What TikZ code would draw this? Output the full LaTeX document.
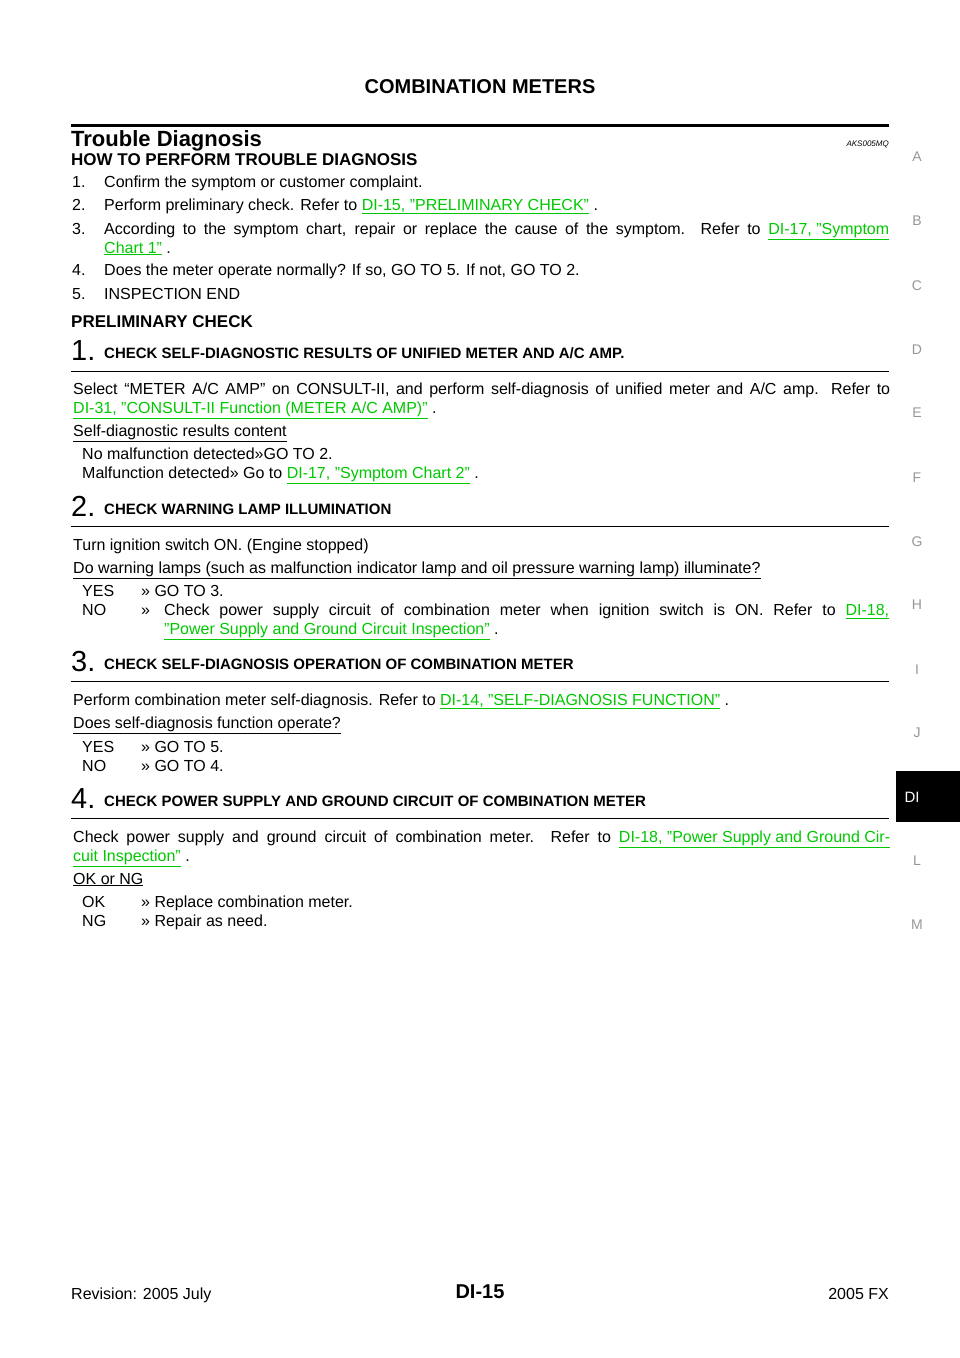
\documentclass[tikz,border=0pt]{standalone}
\usepackage{fontspec}
\setmainfont{Liberation Sans}
\definecolor{linkgreen}{RGB}{0,200,0}
\definecolor{tabgray}{RGB}{150,150,150}
\newcommand{\lnk}[1]{\textcolor{linkgreen}{\underline{#1}}}
\tikzset{
  body/.style={anchor=base west, inner sep=0pt, font=\fontsize{16}{19}\selectfont},
  head/.style={anchor=base west, inner sep=0pt, font=\fontsize{17}{20}\selectfont\bfseries},
  stepnum/.style={anchor=base west, inner sep=0pt, font=\fontsize{29}{30}\selectfont},
  steptitle/.style={anchor=base west, inner sep=0pt, font=\fontsize{15}{18}\selectfont\bfseries},
  tab/.style={inner sep=0pt, text=tabgray, font=\fontsize{14}{16}\selectfont},
}
\begin{document}
\begin{tikzpicture}[x=1pt, y=-1pt]
\useasboundingbox (0,0) rectangle (960,1358);

% page header
\node[inner sep=0pt, anchor=base, font=\fontsize{20}{24}\selectfont\bfseries] (title) at (480,93) {COMBINATION METERS};
\draw[line width=3pt] (71,125) -- (889,125);
\node[anchor=base west, inner sep=0pt, font=\fontsize{22}{26}\selectfont\bfseries] (trouble) at (71,146) {Trouble Diagnosis};
\node[anchor=base east, inner sep=0pt, font=\fontsize{8}{9}\selectfont\itshape] (code) at (889,146) {AKS005MQ};

% how to perform
\node[head] (howto) at (71,165) {HOW TO PERFORM TROUBLE DIAGNOSIS};
\node[body] (n1) at (72,187) {1.};
\node[body] (t1) at (104,187) {Confirm the symptom or customer complaint.};
\node[body] (n2) at (72,210) {2.};
\node[body] (t2) at (104,210) {Perform preliminary check. Refer to \lnk{DI-15, "PRELIMINARY CHECK"} .};
\node[body] (n3) at (72,234) {3.};
\node[body, text width=785pt, align=justify] (t3) at (104,234) {According to the symptom chart, repair or replace the cause of the symptom. Refer to \lnk{DI-17, "Symptom}\linebreak \lnk{Chart 1"} .};
\node[body] (n4) at (72,275) {4.};
\node[body] (t4) at (104,275) {Does the meter operate normally? If so, GO TO 5. If not, GO TO 2.};
\node[body] (n5) at (72,299) {5.};
\node[body] (t5) at (104,299) {INSPECTION END};

\node[head] (prelim) at (71,327) {PRELIMINARY CHECK};

% step 1
\node[stepnum] (s1) at (71,360) {1.};
\node[steptitle] (s1t) at (104,358) {CHECK SELF-DIAGNOSTIC RESULTS OF UNIFIED METER AND A/C AMP.};
\draw (71,371) -- (889,371);
\node[body, text width=817pt, align=justify] (s1a) at (73,394) {Select “METER A/C AMP” on CONSULT-II, and perform self-diagnosis of unified meter and A/C amp. Refer to\linebreak \lnk{DI-31, "CONSULT-II Function (METER A/C AMP)"} .};
\node[body] (s1q) at (73,436) {\underline{Self-diagnostic results content}};
\node[body] (s1r1) at (82,459) {No malfunction detected>>GO TO 2.};
\node[body] (s1r2) at (82,478) {Malfunction detected>> Go to \lnk{DI-17, "Symptom Chart 2"} .};

% step 2
\node[stepnum] (s2) at (71,516) {2.};
\node[steptitle] (s2t) at (104,514) {CHECK WARNING LAMP ILLUMINATION};
\draw (71,526) -- (889,526);
\node[body] (s2a) at (73,550) {Turn ignition switch ON. (Engine stopped)};
\node[body] (s2q) at (73,573) {\underline{Do warning lamps (such as malfunction indicator lamp and oil pressure warning lamp) illuminate?}};
\node[body] (s2y) at (82,596) {YES};
\node[body] (s2ya) at (141,596) {>> GO TO 3.};
\node[body] (s2n) at (82,615) {NO};
\node[body] (s2na) at (141,615) {>>};
\node[body, text width=725pt, align=justify] (s2nb) at (164,615) {Check power supply circuit of combination meter when ignition switch is ON. Refer to \lnk{DI-18,}\linebreak \lnk{"Power Supply and Ground Circuit Inspection"} .};

% step 3
\node[stepnum] (s3) at (71,671) {3.};
\node[steptitle] (s3t) at (104,669) {CHECK SELF-DIAGNOSIS OPERATION OF COMBINATION METER};
\draw (71,681) -- (889,681);
\node[body] (s3a) at (73,705) {Perform combination meter self-diagnosis. Refer to \lnk{DI-14, "SELF-DIAGNOSIS FUNCTION"} .};
\node[body] (s3q) at (73,728) {\underline{Does self-diagnosis function operate?}};
\node[body] (s3y) at (82,752) {YES};
\node[body] (s3ya) at (141,752) {>> GO TO 5.};
\node[body] (s3n) at (82,771) {NO};
\node[body] (s3na) at (141,771) {>> GO TO 4.};

% step 4
\node[stepnum] (s4) at (71,808) {4.};
\node[steptitle] (s4t) at (104,806) {CHECK POWER SUPPLY AND GROUND CIRCUIT OF COMBINATION METER};
\draw (71,818) -- (889,818);
\node[body, text width=817pt, align=justify] (s4a) at (73,842) {Check power supply and ground circuit of combination meter. Refer to \lnk{DI-18, "Power Supply and Ground Cir-}\linebreak \lnk{cuit Inspection"} .};
\node[body] (s4q) at (73,884) {\underline{OK or NG}};
\node[body] (s4o) at (82,907) {OK};
\node[body] (s4oa) at (141,907) {>> Replace combination meter.};
\node[body] (s4g) at (82,926) {NG};
\node[body] (s4ga) at (141,926) {>> Repair as need.};

% side tabs
\foreach \lbl/\yy in {A/157,B/221,C/286,D/350,E/413,F/478,G/542,H/605,I/670,J/733,L/861,M/925}
  \node[tab] (tab\lbl) at (917,\yy) {\lbl};
\fill (896,771) rectangle (960,822);
\node[inner sep=0pt, text=white, font=\fontsize{15}{18}\selectfont] (tabDI) at (912,797) {DI};

% footer
\node[body] (rev) at (71,1299) {Revision: 2005 July};
\node[anchor=base, inner sep=0pt, font=\fontsize{20}{24}\selectfont\bfseries] (page) at (480,1298) {DI-15};
\node[body, anchor=base east] (model) at (889,1299) {2005 FX};
\end{tikzpicture}
\end{document}
